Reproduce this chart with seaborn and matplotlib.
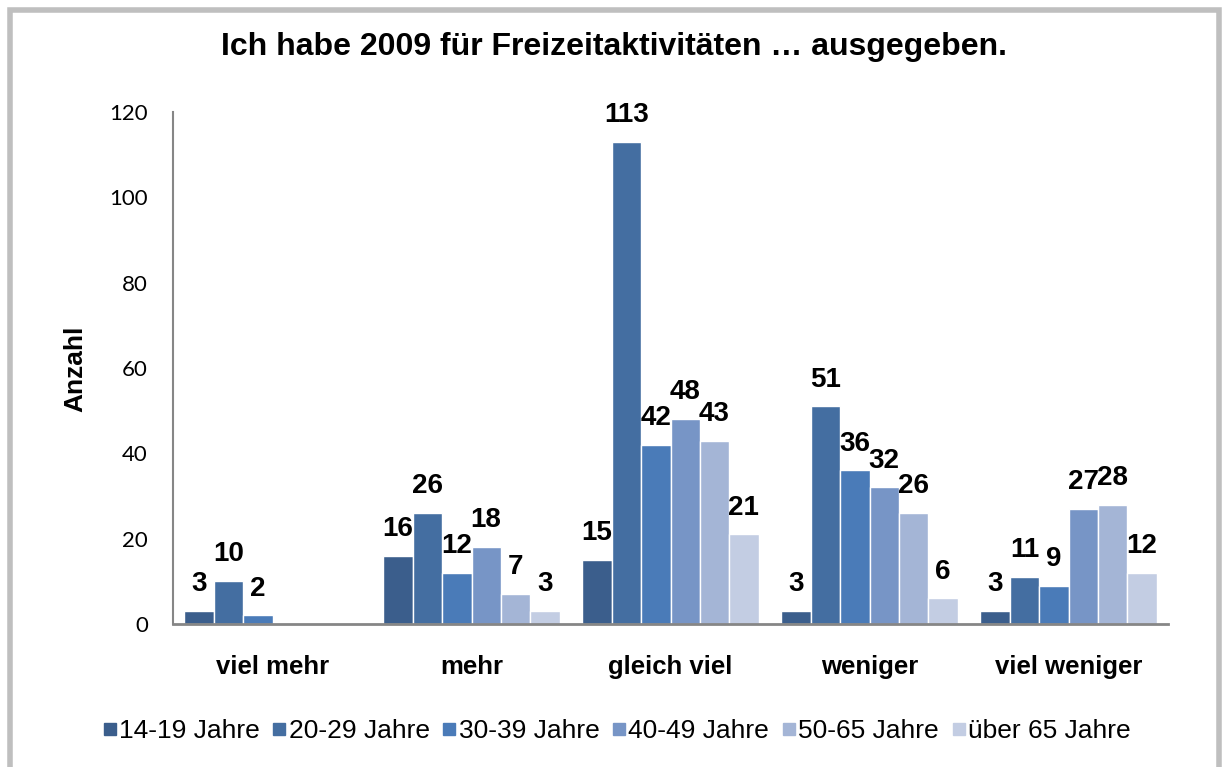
import matplotlib
matplotlib.use("Agg")
import matplotlib.pyplot as plt
import seaborn as sns
import pandas as pd
from matplotlib.patches import Rectangle
from matplotlib.lines import Line2D

categories = ["viel mehr", "mehr", "gleich viel", "weniger", "viel weniger"]
age_groups = ["14-19 Jahre", "20-29 Jahre", "30-39 Jahre", "40-49 Jahre", "50-65 Jahre", "über 65 Jahre"]

v_14_19 = [3, 16, 15, 3, 3]
v_20_29 = [10, 26, 113, 51, 11]
v_30_39 = [2, 12, 42, 36, 9]
v_40_49 = [0, 18, 48, 32, 27]
v_50_65 = [0, 7, 43, 26, 28]
v_ueber_65 = [0, 3, 21, 6, 12]

colors = ["#3B5E8C", "#446EA1", "#4A7BB8", "#7795C6", "#A4B5D6", "#C3CDE3"]

series = [v_14_19, v_20_29, v_30_39, v_40_49, v_50_65, v_ueber_65]
rows = []
for grp, vals in zip(age_groups, series):
    for cat, v in zip(categories, vals):
        rows.append({"Kategorie": cat, "Alter": grp, "Anzahl": v})
df = pd.DataFrame(rows)

sns.set_theme(style="white")
plt.rcParams["font.family"] = ["Liberation Sans", "DejaVu Sans"]
plt.rcParams["text.color"] = "black"
plt.rcParams["axes.labelcolor"] = "black"
plt.rcParams["xtick.color"] = "black"
plt.rcParams["ytick.color"] = "black"

fig = plt.figure(figsize=(12.29, 7.67), dpi=100)
fig.patch.set_facecolor("white")
# outer frame
fig.add_artist(Rectangle((9.5 / 1229, -0.05), 1209 / 1229, 1.05 - 9.5 / 767,
                         transform=fig.transFigure, fill=False,
                         edgecolor="#BFBFBF", linewidth=4))

ax = fig.add_axes([173 / 1229, 1 - 624 / 767, 995 / 1229, 512 / 767])
sns.barplot(data=df, x="Kategorie", y="Anzahl", hue="Alter", order=categories,
            hue_order=age_groups, palette=colors, saturation=1, width=0.885,
            dodge=True, edgecolor="white", linewidth=1, ax=ax, legend=False)

ax.set_ylim(0, 120)
ax.set_yticks(range(0, 121, 20))
ax.set_xlim(-0.5, 4.5)
for spine in ["top", "right"]:
    ax.spines[spine].set_visible(False)
ax.spines["left"].set_color("#868686")
ax.spines["left"].set_linewidth(1.5)
ax.spines["bottom"].set_color("#868686")
ax.spines["bottom"].set_linewidth(2)
ax.tick_params(axis="y", length=0, pad=18, labelsize=16)
ax.tick_params(axis="x", length=0, pad=22, labelsize=18.5)
for lbl in ax.get_yticklabels():
    lbl.set_fontfamily(["Lato", "DejaVu Sans"])
for lbl in ax.get_xticklabels():
    lbl.set_fontweight("bold")
ax.set_xlabel("")
ax.set_ylabel("")
fig.text(75 / 1229, 1 - 369 / 767, "Anzahl", rotation=90, ha="center", va="center",
         fontsize=19, fontweight="bold")

for container in ax.containers:
    labels = [f"{int(b.get_height())}" if b.get_height() > 0 else "" for b in container]
    ax.bar_label(container, labels=labels, padding=10, fontsize=20,
                 fontweight="bold", color="black")

fig.text(614 / 1229, 1 - 47 / 767, "Ich habe 2009 für Freizeitaktivitäten … ausgegeben.",
         ha="center", va="center", fontsize=23, fontweight="bold")

handles = [Line2D([], [], marker="s", linestyle="", markersize=9,
                  markerfacecolor=c, markeredgecolor=c) for c in colors]
fig.legend(handles, age_groups, loc="center", bbox_to_anchor=(616 / 1229, 1 - 731 / 767),
           ncol=6, frameon=False, fontsize=19, handletextpad=0.05,
           columnspacing=0.45, handlelength=0.6)

fig.savefig("out.png", dpi=100)
